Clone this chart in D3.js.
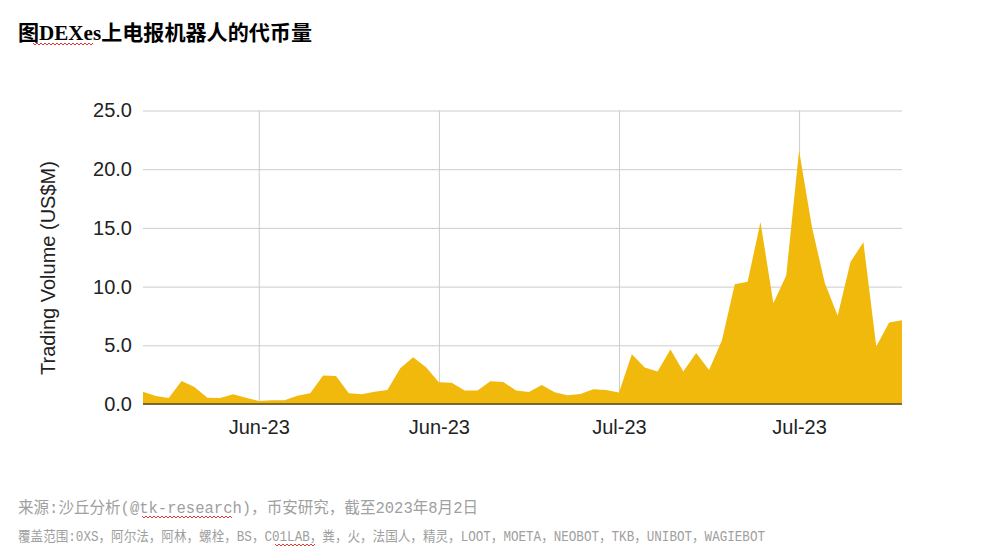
<!DOCTYPE html>
<html>
<head>
<meta charset="utf-8">
<script src="https://cdn.jsdelivr.net/npm/d3@7"></script>
<style>
  html, body { margin: 0; padding: 0; background: #fff; }
  svg { display: block; }
</style>
</head>
<body>
<svg id="chart" width="981" height="548"></svg>
<script>
// ---- Data ----
const titleText = "图DEXes上电报机器人的代币量";
const yAxisTitle = "Trading Volume (US$M)";
const sourceText = "来源:沙丘分析(@tk-research)，币安研究，截至2023年8月2日";
const coverageText = "覆盖范围:0XS，阿尔法，阿林，螺栓，BS，C01LAB，粪，火，法国人，精灵，LOOT，MOETA，NEOBOT，TKB，UNIBOT，WAGIEBOT";

const dates = [
  "2023-05-26","2023-05-27","2023-05-28","2023-05-29","2023-05-30","2023-05-31",
  "2023-06-01","2023-06-02","2023-06-03","2023-06-04","2023-06-05","2023-06-06",
  "2023-06-07","2023-06-08","2023-06-09","2023-06-10","2023-06-11","2023-06-12",
  "2023-06-13","2023-06-14","2023-06-15","2023-06-16","2023-06-17","2023-06-18",
  "2023-06-19","2023-06-20","2023-06-21","2023-06-22","2023-06-23","2023-06-24",
  "2023-06-25","2023-06-26","2023-06-27","2023-06-28","2023-06-29","2023-06-30",
  "2023-07-01","2023-07-02","2023-07-03","2023-07-04","2023-07-05","2023-07-06",
  "2023-07-07","2023-07-08","2023-07-09","2023-07-10","2023-07-11","2023-07-12",
  "2023-07-13","2023-07-14","2023-07-15","2023-07-16","2023-07-17","2023-07-18",
  "2023-07-19","2023-07-20","2023-07-21","2023-07-22","2023-07-23","2023-07-24"
];
const volumes = [
  1.05, 0.68, 0.51, 1.96, 1.45, 0.54,
  0.51, 0.82, 0.54, 0.26, 0.31, 0.31,
  0.71, 0.91, 2.42, 2.39, 0.91, 0.82,
  1.05, 1.19, 3.04, 3.98, 3.13, 1.85,
  1.82, 1.14, 1.14, 1.93, 1.88, 1.16,
  1.02, 1.62, 1.00, 0.74, 0.85, 1.25,
  1.19, 0.97, 4.24, 3.10, 2.76, 4.64,
  2.76, 4.35, 2.90, 5.40, 10.21, 10.41,
  15.50, 8.59, 10.95, 21.59, 15.07, 10.30,
  7.51, 12.12, 13.77, 4.89, 6.94, 7.14
];
const xTickDates = ["2023-06-04","2023-06-18","2023-07-02","2023-07-16"];
const xTickLabels = ["Jun-23","Jun-23","Jul-23","Jul-23"];
const yTicks = [0, 5, 10, 15, 20, 25];

// ---- Layout ----
const svg = d3.select("#chart");
const plot = { left: 143, right: 902, top: 110.5, bottom: 404 };
const areaColor = "#f0b90b";

const x = d3.scalePoint().domain(dates).range([plot.left, plot.right]);
const y = d3.scaleLinear().domain([0, 25]).range([plot.bottom, plot.top]);

// Title
svg.append("text")
  .attr("x", 18).attr("y", 40)
  .attr("font-family", "'Liberation Serif', 'Noto Sans CJK SC', serif")
  .attr("font-size", 21).attr("font-weight", "bold")
  .attr("fill", "#000")
  .attr("textLength", 294).attr("lengthAdjust", "spacingAndGlyphs")
  .text(titleText);

// Horizontal gridlines
const yAxis = d3.axisLeft(y).tickValues(yTicks)
  .tickSize(-(plot.right - plot.left)).tickPadding(11)
  .tickFormat(d3.format(".1f"));
const gy = svg.append("g").attr("transform", `translate(${plot.left},0)`).call(yAxis);
gy.select(".domain").remove();
gy.selectAll(".tick line").attr("stroke", "#cccccc").attr("stroke-width", 1);
gy.selectAll(".tick text")
  .attr("font-family", "'Liberation Sans', Arial, sans-serif")
  .attr("font-size", 20).attr("fill", "#222");

// Vertical gridlines + x labels
const xAxis = d3.axisBottom(x).tickValues(xTickDates)
  .tickSize(-(plot.bottom - plot.top)).tickPadding(16)
  .tickFormat((d) => xTickLabels[xTickDates.indexOf(d)]);
const gx = svg.append("g").attr("transform", `translate(0,${plot.bottom})`).call(xAxis);
gx.select(".domain").remove();
gx.selectAll(".tick line").attr("stroke", "#cccccc").attr("stroke-width", 1);
gx.selectAll(".tick text")
  .attr("font-family", "'Liberation Sans', Arial, sans-serif")
  .attr("font-size", 20).attr("fill", "#222");

// Area
const area = d3.area()
  .x((d, i) => x(dates[i]))
  .y0(y(0))
  .y1((d) => y(d));
svg.append("path")
  .datum(volumes)
  .attr("d", area)
  .attr("fill", areaColor);

// Baseline
svg.append("line")
  .attr("x1", plot.left).attr("x2", plot.right)
  .attr("y1", y(0)).attr("y2", y(0))
  .attr("stroke", "#5a4c22").attr("stroke-width", 1.5);

// Y axis title
svg.append("text")
  .attr("transform", `translate(55,268) rotate(-90)`)
  .attr("text-anchor", "middle")
  .attr("font-family", "'Liberation Sans', Arial, sans-serif")
  .attr("font-size", 20).attr("fill", "#222")
  .text(yAxisTitle);

// Footer
svg.append("text")
  .attr("x", 18).attr("y", 513)
  .attr("font-family", "'Liberation Mono', 'Noto Sans CJK SC', monospace")
  .attr("font-size", 16).attr("fill", "#a0a0a0")
  .attr("textLength", 460).attr("lengthAdjust", "spacingAndGlyphs")
  .text(sourceText);
svg.append("text")
  .attr("x", 18).attr("y", 541)
  .attr("font-family", "'Liberation Mono', 'Noto Sans CJK SC', monospace")
  .attr("font-size", 14).attr("fill", "#a0a0a0")
  .attr("textLength", 747).attr("lengthAdjust", "spacingAndGlyphs")
  .text(coverageText);

// Spell-check style wavy underlines
function wavy(x1, x2, yy) {
  const pts = [];
  let up = true;
  for (let xx = x1; xx <= x2; xx += 2) { pts.push([xx, up ? yy - 1 : yy + 1]); up = !up; }
  svg.append("path").attr("d", d3.line()(pts))
    .attr("fill", "none").attr("stroke", "#e02020").attr("stroke-width", 0.9);
}
wavy(33, 93, 44);
wavy(142, 233, 517);
wavy(275, 315, 545);
</script>
</body>
</html>
